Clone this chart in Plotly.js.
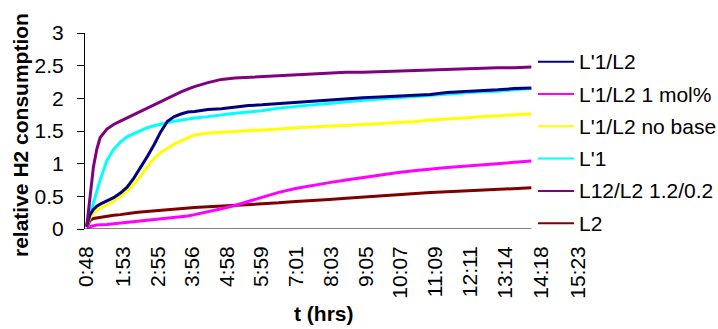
<!DOCTYPE html>
<html>
<head>
<meta charset="utf-8">
<script src="https://cdn.plot.ly/plotly-3.0.1.min.js"></script>
<style>html,body{margin:0;padding:0;background:#fff;}#chart{width:718px;height:329px;}</style>
</head>
<body>
<div id="chart"></div>
<script>
// time in hours (0:48 = 0.8 h)
var time = [0.8, 0.9, 1.0, 1.1, 1.2, 1.4, 1.6, 1.8, 2.0, 2.2, 2.4, 2.6, 2.8, 3.0, 3.2, 3.4, 3.6, 3.8, 4.0, 4.4, 4.8, 5.2, 5.6, 6.0, 6.5, 7.0, 7.5, 8.0, 8.5, 9.0, 9.5, 10.0, 10.5, 11.0, 11.5, 12.0, 12.5, 13.0, 13.5, 14.0];

var seriesNames = ["L'1/L2", "L'1/L2 1 mol%", "L'1/L2 no base", "L'1", "L12/L2 1.2/0.2", "L2"];

var L1L2 = [0.05, 0.22, 0.30, 0.35, 0.38, 0.43, 0.48, 0.55, 0.64, 0.78, 0.94, 1.11, 1.29, 1.49, 1.65, 1.72, 1.76, 1.79, 1.80, 1.83, 1.84, 1.87, 1.89, 1.90, 1.92, 1.93, 1.95, 1.97, 1.99, 2.01, 2.02, 2.03, 2.05, 2.06, 2.09, 2.10, 2.12, 2.13, 2.15, 2.16];
var L1L2mol = [0.02, 0.04, 0.05, 0.06, 0.06, 0.07, 0.08, 0.09, 0.10, 0.11, 0.12, 0.13, 0.14, 0.15, 0.16, 0.17, 0.19, 0.20, 0.22, 0.26, 0.31, 0.36, 0.42, 0.49, 0.56, 0.62, 0.67, 0.71, 0.75, 0.79, 0.83, 0.86, 0.89, 0.92, 0.94, 0.96, 0.98, 1.00, 1.02, 1.04];
var L1L2nobase = [0.05, 0.17, 0.24, 0.29, 0.32, 0.37, 0.42, 0.50, 0.58, 0.69, 0.81, 0.95, 1.08, 1.17, 1.24, 1.30, 1.35, 1.40, 1.44, 1.47, 1.48, 1.50, 1.51, 1.52, 1.53, 1.55, 1.56, 1.58, 1.59, 1.60, 1.61, 1.63, 1.64, 1.67, 1.68, 1.70, 1.72, 1.73, 1.75, 1.76];
var L1only = [0.05, 0.22, 0.38, 0.58, 0.75, 1.05, 1.22, 1.33, 1.41, 1.46, 1.51, 1.55, 1.58, 1.61, 1.63, 1.65, 1.67, 1.69, 1.70, 1.72, 1.75, 1.77, 1.79, 1.81, 1.85, 1.88, 1.90, 1.92, 1.95, 1.97, 1.99, 2.01, 2.02, 2.04, 2.06, 2.08, 2.10, 2.11, 2.13, 2.15];
var L12L2 = [0.03, 0.50, 0.95, 1.22, 1.40, 1.53, 1.60, 1.65, 1.70, 1.75, 1.80, 1.85, 1.91, 1.96, 2.00, 2.06, 2.10, 2.14, 2.18, 2.24, 2.29, 2.31, 2.32, 2.33, 2.34, 2.36, 2.37, 2.38, 2.40, 2.40, 2.41, 2.42, 2.43, 2.44, 2.44, 2.45, 2.46, 2.47, 2.47, 2.48];
var L2only = [0.03, 0.13, 0.16, 0.17, 0.18, 0.20, 0.21, 0.22, 0.24, 0.25, 0.26, 0.27, 0.27, 0.28, 0.29, 0.30, 0.31, 0.32, 0.33, 0.34, 0.35, 0.36, 0.37, 0.38, 0.40, 0.42, 0.43, 0.45, 0.47, 0.49, 0.51, 0.53, 0.54, 0.56, 0.57, 0.58, 0.59, 0.61, 0.62, 0.63];

var seriesColors = ["#000080", "#FF00FF", "#FFFF00", "#00FFFF", "#800080", "#800000"];

var tickTimes = [0.8, 1.8833, 2.9167, 3.9333, 4.9667, 5.9833, 7.0167, 8.05, 9.0833, 10.1167, 11.15, 12.1833, 13.2333, 14.3, 15.3833];
var tickLabels = ["0:48", "1:53", "2:55", "3:56", "4:58", "5:59", "7:01", "8:03", "9:05", "10:07", "11:09", "12:11", "13:14", "14:18", "15:23"];
var yTicks = [0, 0.5, 1, 1.5, 2, 2.5, 3];
var yTickLabels = ["0", "0.5", "1", "1.5", "2", "2.5", "3"];

var xTitle = "t (hrs)";
var yTitle = "relative H2 consumption";

var xRange = [0.75, 15.8];
var yRange = [0, 3];

var W = 718, H = 329;
var M = {l: 85, r: 126, t: 33, b: 100};
function pX(px) { return (px - M.l) / (W - M.l - M.r); }
function pY(py) { return (H - M.b - py) / (H - M.t - M.b); }

var allValues = [L1L2, L1L2mol, L1L2nobase, L1only, L12L2, L2only];
var drawOrder = [5, 1, 2, 3, 0, 4];
var traces = drawOrder.map(function (k) {
  return {
    x: time,
    y: allValues[k],
    type: 'scatter',
    mode: 'lines',
    name: seriesNames[k],
    line: {color: seriesColors[k], width: 3},
    hoverinfo: 'skip',
    showlegend: false
  };
});

var FONT = "Liberation Sans, Arial, Helvetica, sans-serif";
var FS = 21;

// axis line along y = 0 (ends where the data ends, as in the original)
var shapes = [{
  type: 'line', xref: 'x', yref: 'y',
  x0: xRange[0], x1: time[time.length - 1], y0: yRange[0], y1: yRange[0],
  line: {color: '#000', width: 1},
  layer: 'above'
}];

var annotations = [
  {text: '<b>' + xTitle + '</b>', xref: 'paper', yref: 'paper', x: pX(324), y: pY(313),
   xanchor: 'center', yanchor: 'middle', showarrow: false, font: {family: FONT, size: FS, color: '#000'}},
  {text: '<b>' + yTitle + '</b>', xref: 'paper', yref: 'paper', x: pX(20), y: pY(135), textangle: -90,
   xanchor: 'center', yanchor: 'middle', showarrow: false, font: {family: FONT, size: FS, color: '#000'}}
];

// legend (drawn as layout items)
var legLineX0 = 538, legLineX1 = 574, legTextX = 577, legY0 = 61.7, legStep = 32.3;
for (var i = 0; i < seriesNames.length; i++) {
  var ly = legY0 + i * legStep;
  shapes.push({
    type: 'line', xref: 'paper', yref: 'paper',
    x0: pX(legLineX0), x1: pX(legLineX1), y0: pY(ly), y1: pY(ly),
    line: {color: seriesColors[i], width: 2}
  });
  annotations.push({
    text: seriesNames[i], xref: 'paper', yref: 'paper', x: pX(legTextX), y: pY(ly),
    xanchor: 'left', yanchor: 'middle', showarrow: false,
    font: {family: FONT, size: FS, color: '#000'}
  });
}

var layout = {
  width: W,
  height: H,
  margin: {l: M.l, r: M.r, t: M.t, b: M.b, pad: 0, autoexpand: false},
  paper_bgcolor: '#ffffff',
  plot_bgcolor: 'rgba(0,0,0,0)',
  font: {family: FONT, size: FS, color: '#000'},
  showlegend: false,
  xaxis: {
    range: xRange,
    showgrid: false,
    zeroline: false,
    showline: false,
    ticks: '',
    tickmode: 'array',
    tickvals: tickTimes,
    ticktext: tickLabels,
    tickangle: -90,
    tickfont: {family: FONT, size: FS, color: '#000'},
    ticklabelstandoff: 12,
    automargin: false
  },
  yaxis: {
    range: yRange,
    showgrid: false,
    zeroline: false,
    showline: true,
    linecolor: '#000',
    linewidth: 1,
    ticks: 'outside',
    ticklen: 7,
    tickcolor: '#000',
    tickwidth: 1,
    tickmode: 'array',
    tickvals: yTicks,
    ticktext: yTickLabels,
    tickfont: {family: FONT, size: FS, color: '#000'},
    ticklabelstandoff: 9,
    automargin: false
  },
  annotations: annotations,
  shapes: shapes
};

Plotly.newPlot('chart', traces, layout, {displayModeBar: false, staticPlot: true});
</script>
</body>
</html>
